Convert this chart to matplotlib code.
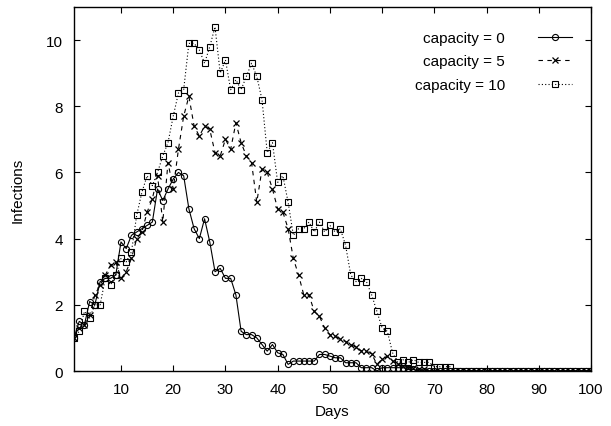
import numpy as np
import matplotlib
matplotlib.use('Agg')
import matplotlib.pyplot as plt

plt.rcParams['font.family'] = ['Liberation Sans', 'DejaVu Sans']

# infections per day, days 1..100
days = np.arange(1, 101)

cap0 = [1.0, 1.5, 1.4, 2.1, 2.0, 2.7, 2.8, 2.8, 2.9, 3.9,
        3.7, 4.1, 4.2, 4.3, 4.4, 4.5, 5.5, 5.15, 5.5, 5.8,
        6.0, 5.9, 4.9, 4.3, 4.0, 4.6, 3.9, 3.0, 3.1, 2.8,
        2.8, 2.3, 1.2, 1.1, 1.1, 1.0, 0.8, 0.6, 0.8, 0.55,
        0.5, 0.2, 0.3, 0.3, 0.3, 0.3, 0.3, 0.5, 0.5, 0.45,
        0.4, 0.4, 0.25, 0.25, 0.25, 0.1, 0.1, 0.1, 0.0, 0.1,
        0.1, 0.1, 0.1, 0.1, 0.05, 0.05] + [0.0] * 34

cap5 = [1.0, 1.3, 1.4, 1.7, 2.3, 2.6, 2.9, 3.2, 3.3, 2.8,
        3.0, 3.4, 4.0, 4.2, 4.8, 5.2, 5.9, 4.5, 6.3, 5.5,
        6.7, 7.7, 8.3, 7.4, 7.1, 7.4, 7.3, 6.6, 6.5, 7.0,
        6.7, 7.5, 6.9, 6.5, 6.3, 5.1, 6.1, 6.0, 5.5, 4.9,
        4.8, 4.3, 3.4, 2.9, 2.3, 2.3, 1.8, 1.65, 1.3, 1.1,
        1.05, 0.97, 0.89, 0.8, 0.72, 0.61, 0.6, 0.52, 0.2, 0.36,
        0.44, 0.3, 0.2, 0.15, 0.1, 0.1, 0.05, 0.05] + [0.0] * 32

cap10 = [1.0, 1.2, 1.8, 1.6, 2.0, 2.0, 2.8, 2.6, 2.9, 3.4,
         3.3, 3.6, 4.7, 5.4, 5.9, 5.6, 6.0, 6.5, 6.9, 7.7,
         8.4, 8.5, 9.9, 9.9, 9.7, 9.3, 9.8, 10.4, 9.0, 9.4,
         8.5, 8.8, 8.5, 8.9, 9.3, 8.9, 8.2, 6.6, 6.9, 5.7,
         5.9, 5.1, 4.1, 4.3, 4.3, 4.5, 4.2, 4.5, 4.2, 4.4,
         4.2, 4.3, 3.8, 2.9, 2.7, 2.8, 2.7, 2.3, 1.8, 1.3,
         1.2, 0.55, 0.26, 0.34, 0.26, 0.34, 0.26, 0.26, 0.26, 0.13,
         0.13, 0.13, 0.13] + [0.0] * 27

labels = ['capacity = 0', 'capacity = 5', 'capacity = 10']

fig = plt.figure(figsize=(6.11, 4.27), dpi=100)
ax = fig.add_axes([0.1211, 0.1288, 0.8462, 0.8525])

lw = 0.8
ax.plot(days, cap0, color='black', lw=lw, linestyle='-', marker='o',
        ms=4.4, mfc='none', mew=0.8, label=labels[0])
ax.plot(days, cap5, color='black', lw=lw, linestyle=(0, (4, 4)), marker='x',
        ms=4.4, mew=0.9, label=labels[1])
ax.plot(days, cap10, color='black', lw=lw, linestyle=(0, (1, 2)), marker='s',
        ms=4.8, mfc='none', mew=0.8, label=labels[2])

ax.set_xlim(1, 100)
ax.set_ylim(0, 11)
ax.set_xticks(np.arange(10, 101, 10))
ax.set_yticks(np.arange(0, 11, 2))
ax.tick_params(direction='in', length=4, width=0.8, top=True, right=True,
               labelsize=11, pad=8)
for s in ax.spines.values():
    s.set_linewidth(1.0)

ax.set_xlabel('Days', fontsize=11, labelpad=6)
ax.set_ylabel('Infections', fontsize=11, labelpad=15)

ax.legend(loc='upper right', bbox_to_anchor=(572 / 611, 1 - 32 / 427),
          bbox_transform=fig.transFigure, frameon=False, markerfirst=False,
          fontsize=11, handlelength=2.2, handletextpad=2.2, labelspacing=0.62,
          borderpad=0, borderaxespad=0)

fig.savefig('out.png', dpi=100)
